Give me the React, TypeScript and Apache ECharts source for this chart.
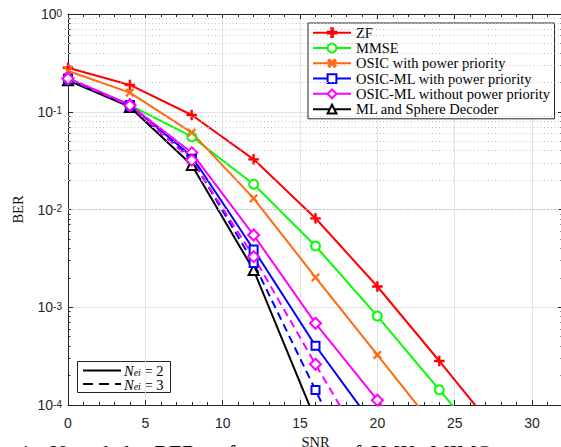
import React, { useEffect, useRef } from "react";
import * as echarts from "echarts";

const SNR = [0, 4, 8, 12, 16, 20, 24, 28];
const ZF = [0.282, 0.188, 0.0926, 0.0326, 0.00813, 0.00163, 2.82e-4, 4.7e-5];
const MMSE = [0.208, 0.117, 0.0556, 0.0181, 0.00423, 8.13e-4, 1.43e-4, 2.6e-5];
const OSIC_PP = [0.261, 0.157, 0.0611, 0.013, 0.00202, 3.25e-4, 5.2e-5];
const OSICML_PP = [0.218, 0.117, 0.035, 0.0039, 4.04e-4, 5.5e-5];
const OSICML_NOPP = [0.22, 0.118, 0.038, 0.00548, 6.85e-4, 1.12e-4, 1.8e-5];
const ML_SD = [0.21, 0.112, 0.0285, 0.0024, 7e-5];
const OSICML_PP_N3 = [0.215, 0.115, 0.033, 0.00284, 1.42e-4, 7e-6];
const OSICML_NOPP_N3 = [0.218, 0.116, 0.032, 0.00329, 2.61e-4, 2.2e-5];

const X_TICKS = [0, 5, 10, 15, 20, 25, 30];
const Y_DECADES = [1e-4, 1e-3, 1e-2, 1e-1, 1];
const MINOR_MULT = [2, 3, 4, 5, 6, 7, 8, 9];

const minorVals: number[] = [];
for (let i = 0; i < Y_DECADES.length - 1; i++) {
  for (const m of MINOR_MULT) minorVals.push(m * Y_DECADES[i]);
}

const PLUS = "path://M4.1,0H5.9V4.1H10V5.9H5.9V10H4.1V5.9H0V4.1H4.1Z";
const AX = "#262626";
const SERIF = "'Liberation Serif', 'Times New Roman', serif";
const SANS = "'Liberation Sans', Arial, sans-serif";

const pairs = (ys: number[]) => ys.map((v, i) => [SNR[i], v]);

function mk(name: string, ys: number[], color: string, symbol: string, size: number, dashed: boolean, extra: any = {}) {
  return {
    name,
    type: "line",
    xAxisIndex: 0,
    yAxisIndex: 0,
    data: pairs(ys),
    symbol,
    symbolSize: size,
    showSymbol: true,
    clip: true,
    lineStyle: { color, width: 2, type: dashed ? [8, 5] : "solid" },
    itemStyle: { color, borderColor: color, borderWidth: 1.6 },
    emphasis: { disabled: true },
    z: 3,
    ...extra,
  };
}

const neiRich = {
  i: { fontFamily: SERIF, fontStyle: "italic", fontSize: 14.5, lineHeight: 11, fill: "#000" },
  sub: { fontFamily: SERIF, fontStyle: "italic", fontSize: 10, lineHeight: 7, fill: "#000", padding: [4, 0, 0, 0] },
  n: { fontFamily: SERIF, fontSize: 14.5, lineHeight: 11, fill: "#000" },
};

export default function App() {
  const ref = useRef<HTMLDivElement>(null);
  useEffect(() => {
    if (!ref.current) return;
    const chart = echarts.init(ref.current, null, { renderer: "svg" });
    const tickAxisBase = {
      type: "log",
      logBase: 10,
      min: 1e-4,
      max: 1,
      axisLabel: { show: false },
      splitLine: { show: false },
    };
    const option: any = {
      animation: false,
      backgroundColor: "#fff",
      grid: { left: 68, right: -2, top: 14, bottom: 42, containLabel: false, outerBoundsMode: "none" },
      legend: {
        data: [
          "ZF",
          "MMSE",
          "OSIC with power priority",
          "OSIC-ML with power priority",
          "OSIC-ML without power priority",
          "ML and Sphere Decoder",
        ],
        orient: "vertical",
        left: 308,
        top: 23,
        align: "left",
        itemWidth: 38,
        itemHeight: 11,
        itemGap: 0,
        padding: [2, 4, 2, 4],
        backgroundColor: "#fff",
        borderColor: AX,
        borderWidth: 1,
        borderRadius: 0,
        selectedMode: false,
        textStyle: { fontFamily: SERIF, fontSize: 14.5, color: "#000", lineHeight: 15.3 },
      },
      xAxis: [
        {
          type: "value",
          min: 0,
          max: 32,
          interval: 5,
          position: "bottom",
          axisLine: { show: true, lineStyle: { color: AX, width: 1 } },
          axisTick: { show: true, inside: true, length: 5, lineStyle: { color: AX } },
          minorTick: { show: true, splitNumber: 5, length: 3, lineStyle: { color: AX } },
          axisLabel: {
            margin: 11,
            fontSize: 14,
            fontFamily: SANS,
            color: AX,
            showMaxLabel: false,
            formatter: (v: number) => (X_TICKS.indexOf(v) >= 0 ? String(v) : ""),
          },
          splitLine: { show: true, lineStyle: { color: "#e3e3e3", width: 1 } },
          name: "SNR",
          nameLocation: "middle",
          nameGap: 24,
          nameTextStyle: { fontFamily: SERIF, fontSize: 14.5, color: "#111", lineHeight: 12 },
        },
        {
          type: "value",
          min: 0,
          max: 32,
          interval: 5,
          position: "top",
          axisLine: { show: true, lineStyle: { color: AX, width: 1 } },
          axisTick: { show: true, inside: true, length: 5, lineStyle: { color: AX } },
          minorTick: { show: true, splitNumber: 5, length: 3, lineStyle: { color: AX } },
          axisLabel: { show: false },
          splitLine: { show: false },
        },
      ],
      yAxis: [
        {
          type: "log",
          logBase: 10,
          min: 1e-4,
          max: 1,
          position: "left",
          axisLine: { show: true, lineStyle: { color: AX, width: 1 } },
          axisTick: { show: true, inside: true, length: 5, lineStyle: { color: AX } },
          axisLabel: {
            margin: 6,
            color: AX,
            formatter: (v: number) => `{b|10}{s|${Math.round(Math.log10(v))}}`,
            rich: {
              b: { fontFamily: SANS, fontSize: 14, lineHeight: 14, padding: [8, 0, 0, 0], color: AX, verticalAlign: "bottom" },
              s: { fontFamily: SANS, fontSize: 10, lineHeight: 10, padding: [1, 0, 0, 0], color: AX, verticalAlign: "top" },
            },
          },
          splitLine: { show: true, lineStyle: { color: "#e3e3e3", width: 1 } },
          name: "BER",
          nameLocation: "middle",
          nameGap: 43,
          nameTextStyle: { fontFamily: SERIF, fontSize: 14.5, color: "#111" },
        },
        {
          ...tickAxisBase,
          position: "left",
          axisLine: { show: false },
          axisTick: { show: true, inside: true, length: 2.5, customValues: minorVals, lineStyle: { color: AX } },
        },
        {
          ...tickAxisBase,
          position: "right",
          axisLine: { show: true, lineStyle: { color: AX, width: 1 } },
          axisTick: { show: true, inside: true, length: 5, lineStyle: { color: AX } },
        },
        {
          ...tickAxisBase,
          position: "right",
          axisLine: { show: false },
          axisTick: { show: true, inside: true, length: 2.5, customValues: minorVals, lineStyle: { color: AX } },
        },
      ],
      series: [
        {
          name: "minor-grid",
          type: "line",
          xAxisIndex: 0,
          yAxisIndex: 0,
          data: [],
          z: 1,
          silent: true,
          markLine: {
            silent: true,
            symbol: ["none", "none"],
            label: { show: false },
            emphasis: { disabled: true },
            lineStyle: { color: "#c4c4c4", type: [1, 2.5], width: 1 },
            data: minorVals.map((v) => ({ yAxis: v })),
          },
        },
        mk("ZF", ZF, "#ff0000", PLUS, 10, false, { itemStyle: { color: "#ff0000", borderColor: "#ff0000", borderWidth: 0.6 } }),
        mk("MMSE", MMSE, "#00ff00", "emptyCircle", 9, false),
        mk("OSIC with power priority", OSIC_PP, "#ff6a10", PLUS, 10, false, {
          symbolRotate: 45,
          itemStyle: { color: "#ff6a10", borderColor: "#ff6a10", borderWidth: 0.6 },
        }),
        mk("OSIC-ML with power priority", OSICML_PP, "#0000ff", "emptyRect", 8, false),
        mk("OSIC-ML without power priority", OSICML_NOPP, "#ff00ff", "emptyDiamond", 11, false),
        mk("ML and Sphere Decoder", ML_SD, "#000000", "emptyTriangle", 10, false),
        mk("OSIC-ML with power priority (Nei=3)", OSICML_PP_N3, "#0000ff", "emptyRect", 8, true),
        mk("OSIC-ML without power priority (Nei=3)", OSICML_NOPP_N3, "#ff00ff", "emptyDiamond", 11, true),
      ],
      graphic: [
        {
          type: "group",
          left: 77,
          top: 361,
          children: [
            { type: "rect", shape: { x: 0.5, y: 0.5, width: 93, height: 31 }, style: { fill: "#fff", stroke: AX, lineWidth: 1 } },
            { type: "line", shape: { x1: 6, y1: 9.5, x2: 44, y2: 9.5 }, style: { stroke: "#000", lineWidth: 2 } },
            { type: "line", shape: { x1: 6, y1: 23, x2: 44, y2: 23 }, style: { stroke: "#000", lineWidth: 2, lineDash: [10, 6] } },
            {
              type: "text",
              x: 47,
              y: 9.5,
              style: { text: "{i|N}{sub|ei}{n| = 2}", verticalAlign: "middle", rich: neiRich },
            },
            {
              type: "text",
              x: 47,
              y: 23.5,
              style: { text: "{i|N}{sub|ei}{n| = 3}", verticalAlign: "middle", rich: neiRich },
            },
          ],
        },
        ...[
          ["4.", 18],
          ["Uncoded", 50],
          ["BER", 154],
          ["performance", 200],
          ["of", 343],
          ["SMX", 368],
          ["MIMO", 430],
          ["systems", 515],
        ].map(([t, x]) => ({
          type: "text",
          left: x as number,
          top: 441,
          style: { text: t as string, fontFamily: SERIF, fontSize: 22, fill: "#000" },
        })),
      ],
    };
    chart.setOption(option);
    return () => chart.dispose();
  }, []);
  return <div ref={ref} style={{ width: 561, height: 447, position: "absolute", left: 0, top: 0 }} />;
}
